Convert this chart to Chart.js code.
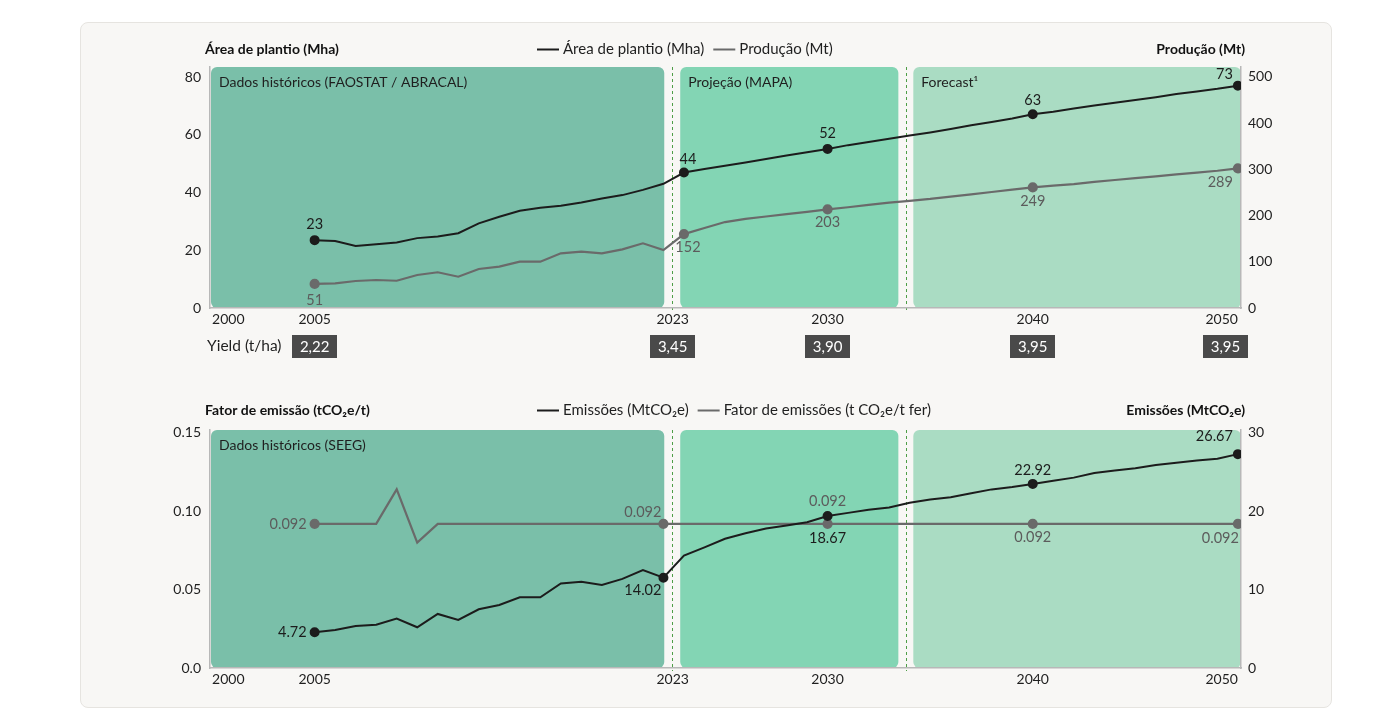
<!DOCTYPE html>
<html lang="pt-BR">
<head>
<meta charset="utf-8">
<title>Área de plantio, produção e emissões</title>
<script src="https://cdn.jsdelivr.net/npm/chart.js@4.4.1/dist/chart.umd.min.js"></script>
<style>
  html, body { margin: 0; padding: 0; background: #fff; }
  body { width: 1394px; height: 709px; overflow: hidden; position: relative; }
  .card { position: absolute; left: 80px; top: 22px; width: 1250px; height: 684px;
          background: #f8f7f5; border: 1px solid #e6e4e0; border-radius: 8px; }
  #cTopo { position: absolute; left: 0; top: 40px; }
  #cBaixo { position: absolute; left: 0; top: 395px; }
</style>
</head>
<body>
<div class="card"></div>
<canvas id="cTopo" width="1394" height="330"></canvas>
<canvas id="cBaixo" width="1394" height="314"></canvas>
<script>
// anos da série (histórico + projeção)
const anos = [2005, 2006, 2007, 2008, 2009, 2010, 2011, 2012, 2013, 2014, 2015, 2016, 2017, 2018, 2019, 2020,
  2021, 2022, 2023, 2024, 2025, 2026, 2027, 2028, 2029, 2030, 2031, 2032, 2033, 2034, 2035, 2036, 2037,
  2038, 2039, 2040, 2041, 2042, 2043, 2044, 2045, 2046, 2047, 2048, 2049, 2050];

// Mha
const areaPlantio = [23.5, 23.2, 21.5, 22.1, 22.7, 24.2, 24.8, 25.9, 29.3, 31.6, 33.7, 34.7, 35.4, 36.5, 37.9, 39.1,
  40.9, 43.0, 46.9, 48.1, 49.3, 50.4, 51.6, 52.8, 53.9, 55.1, 56.4, 57.5, 58.6, 59.7, 60.8, 62.0, 63.3,
  64.4, 65.6, 67.1, 68.0, 69.1, 70.1, 71.1, 72.0, 73.0, 74.1, 75.0, 75.9, 77.0];
// Mt
const producao = [52, 53.5, 58.4, 60.6, 59, 71.4, 77.3, 67.7, 84.4, 89.4, 100.2, 100.2, 118.4, 121.9, 118.4, 127,
  140, 125.5, 160, 173, 186, 193, 198, 203, 208, 213.6, 218, 223, 228, 232, 236, 241, 246,
  251, 256, 261, 265, 268, 273, 277, 281, 285, 289, 293, 297, 302];
// MtCO2e
const emissoes = [4.56, 4.85, 5.36, 5.53, 6.3, 5.2, 6.9, 6.13, 7.5, 8.05, 9.03, 9.03, 10.8, 11.0, 10.6, 11.37,
  12.5, 11.53, 14.34, 15.4, 16.5, 17.2, 17.8, 18.2, 18.6, 19.4, 19.8, 20.2, 20.5, 21.1, 21.5, 21.8, 22.3,
  22.8, 23.1, 23.5, 23.9, 24.3, 24.9, 25.2, 25.5, 25.9, 26.2, 26.5, 26.7, 27.3];
// tCO2e/t
const fatorEmissao = [0.092, 0.092, 0.092, 0.092, 0.114, 0.080, 0.092, 0.092, 0.092, 0.092, 0.092, 0.092, 0.092,
  0.092, 0.092, 0.092, 0.092, 0.092, 0.092, 0.092, 0.092, 0.092, 0.092, 0.092, 0.092, 0.092, 0.092, 0.092,
  0.092, 0.092, 0.092, 0.092, 0.092, 0.092, 0.092, 0.092, 0.092, 0.092, 0.092, 0.092, 0.092, 0.092, 0.092,
  0.092, 0.092, 0.092];

// eixo x
const ticksX = [2000, 2005, 2022.45, 2030, 2040, 2050];
const rotulosX = ["2000", "2005", "2023", "2030", "2040", "2050"];
const xMin = 1999.9, xMax = 2050.15;

// eixos y
const ticksArea = [0, 20, 40, 60, 80];
const ticksProducao = [0, 100, 200, 300, 400, 500];
const ticksFator = [0, 0.05, 0.10, 0.15];
const rotulosFator = ["0.0", "0.05", "0.10", "0.15"];
const ticksEmissoes = [0, 10, 20, 30];

// faixas (histórico / projeção / forecast)
const faixasInicio = [1999.9, 2022.77, 2034.13];
const faixasFim = [2022.04, 2033.45, 2050.15];
const divisores = [2022.43, 2033.8];
const nomesFaixasTopo = ["Dados históricos (FAOSTAT / ABRACAL)", "Projeção (MAPA)", "Forecast¹"];
const nomesFaixasBaixo = ["Dados históricos (SEEG)", "", ""];

// rendimento
const yieldPos = [2005, 2022.45, 2030, 2040, 2050];
const yieldValores = ["2,22", "3,45", "3,90", "3,95", "3,95"];

// marcadores e rótulos
const marcasTopo = [2005, 2023, 2030, 2040, 2050];
const rotulosArea = ["23", "44", "52", "63", "73"];
const rotulosProducao = ["51", "152", "203", "249", "289"];
const marcasBaixo = [2005, 2022, 2030, 2040, 2050];
const rotulosEmissoes = ["4.72", "14.02", "18.67", "22.92", "26.67"];
const rotulosFatorPts = ["0.092", "0.092", "0.092", "0.092", "0.092"];

const FONTE = "Lato, 'Noto Sans', sans-serif";
const COR = {
  preto: "#1c1c1c", cinza: "#6a6a6a", txtCinza: "#5c5c5c", eixo: "#b8b8b8",
  divisor: "#4e9e46", caixa: "#4a4a4a", texto: "#1f1f1f"
};
const coresFaixas = ["#7abfa9", "#83d5b4", "#aadcc3"];

Chart.defaults.font.family = FONTE;
Chart.defaults.font.size = 14;
Chart.defaults.color = COR.texto;

function serie(valores) {
  return anos.map((a, i) => ({ x: a, y: valores[i] }));
}
function raio(marcas) {
  return ctx => marcas.includes(anos[ctx.dataIndex]) ? 4 : 0;
}

function eixoX() {
  return {
    type: "linear", min: xMin, max: xMax,
    grid: { display: false, drawTicks: false },
    border: { display: true, color: COR.eixo, width: 1.5 },
    afterBuildTicks: s => { s.ticks = ticksX.map(v => ({ value: v })); },
    afterFit: s => { s.height = 30; },
    ticks: { align: "inner", maxRotation: 0, autoSkip: false, padding: 3,
      callback: (v, i) => rotulosX[i], color: COR.texto }
  };
}
function eixoY(pos, max, ticks, rotulos) {
  return {
    type: "linear", position: pos, min: 0, max: max,
    grid: { display: false, drawTicks: false },
    border: { display: true, color: COR.eixo, width: 1.5 },
    afterBuildTicks: s => { s.ticks = ticks.map(v => ({ value: v })); },
    afterFit: s => { s.width = 40; },
    ticks: { padding: pos === "left" ? 9 : 7, color: COR.texto,
      callback: (v, i) => rotulos ? rotulos[i] : String(v) }
  };
}

const decor = {
  id: "decor",
  beforeDraw(chart, args, o) {
    const { ctx, chartArea: ca } = chart;
    const x = chart.scales.x;
    ctx.save();
    faixasInicio.forEach((ini, i) => {
      const x0 = x.getPixelForValue(ini) + 1;
      const x1 = x.getPixelForValue(faixasFim[i]);
      ctx.fillStyle = coresFaixas[i];
      ctx.beginPath();
      ctx.roundRect(x0, ca.top, x1 - x0, ca.bottom - ca.top, 6);
      ctx.fill();
      if (o.faixas[i]) {
        ctx.fillStyle = COR.texto;
        ctx.font = "14px " + FONTE;
        ctx.textAlign = "left";
        ctx.textBaseline = "middle";
        ctx.fillText(o.faixas[i], x0 + 8, ca.top + 15);
      }
    });
    ctx.strokeStyle = COR.divisor;
    ctx.lineWidth = 1;
    ctx.setLineDash([3, 3]);
    divisores.forEach(d => {
      const px = Math.round(x.getPixelForValue(d)) + 0.5;
      ctx.beginPath();
      ctx.moveTo(px, ca.top);
      ctx.lineTo(px, ca.bottom + 3);
      ctx.stroke();
    });
    ctx.setLineDash([]);

    // títulos dos eixos
    ctx.fillStyle = "#111";
    ctx.font = "bold 14px " + FONTE;
    ctx.textBaseline = "middle";
    ctx.textAlign = "left";
    ctx.fillText(o.tituloEsq, ca.left - 5, o.yTitulo);
    ctx.textAlign = "right";
    ctx.fillText(o.tituloDir, ca.right + 4, o.yTitulo);

    // legenda
    let lx = 537;
    ctx.font = "15px " + FONTE;
    ctx.textAlign = "left";
    o.legenda.forEach(it => {
      ctx.strokeStyle = it.cor;
      ctx.lineWidth = 2;
      ctx.beginPath();
      ctx.moveTo(lx, o.yTitulo + 0.5);
      ctx.lineTo(lx + 22, o.yTitulo + 0.5);
      ctx.stroke();
      ctx.fillStyle = COR.texto;
      ctx.fillText(it.texto, lx + 26, o.yTitulo);
      lx += 26 + ctx.measureText(it.texto).width + 9;
    });
    ctx.restore();
  },
  afterDatasetsDraw(chart, args, o) {
    const { ctx, chartArea: ca } = chart;
    const x = chart.scales.x;
    ctx.save();
    ctx.font = "14.5px " + FONTE;
    ctx.textBaseline = "middle";
    o.rotulos.forEach(r => {
      const ds = chart.data.datasets[r.ds];
      const idx = anos.indexOf(r.ano);
      const px = x.getPixelForValue(r.ano);
      const py = chart.scales[ds.yAxisID].getPixelForValue(ds.data[idx].y);
      ctx.fillStyle = r.cor;
      ctx.textAlign = r.al || "center";
      ctx.fillText(r.txt, px + (r.dx || 0), py + r.dy);
    });

    if (o.rendimento) {
      const yc = ca.bottom + 38;
      ctx.font = "15.5px " + FONTE;
      ctx.fillStyle = COR.texto;
      ctx.textAlign = "left";
      ctx.fillText("Yield (t/ha)", ca.left - 3, yc);
      ctx.font = "15px " + FONTE;
      yieldPos.forEach((p, i) => {
        let cx = x.getPixelForValue(p);
        const w = 45;
        if (cx + w / 2 > ca.right + 7) cx = ca.right + 7 - w / 2;
        ctx.fillStyle = COR.caixa;
        ctx.fillRect(Math.round(cx - w / 2), yc - 11, w, 23);
        ctx.fillStyle = "#fff";
        ctx.textAlign = "center";
        ctx.fillText(yieldValores[i], cx, yc + 1);
      });
    }
    ctx.restore();
  }
};

// posições dos rótulos (topo)
const posAreaTopo = [{ dy: -16 }, { dx: 4, dy: -13 }, { dy: -16 }, { dy: -14 }, { dx: -5, dy: -11, al: "right" }];
const posProdTopo = [{ dy: 16 }, { dx: 4, dy: 13 }, { dy: 13 }, { dy: 14 }, { dx: -5, dy: 14, al: "right" }];
const rotTopo = [
  ...marcasTopo.map((a, i) => Object.assign({ ds: 0, ano: a, txt: rotulosArea[i], cor: COR.preto }, posAreaTopo[i])),
  ...marcasTopo.map((a, i) => Object.assign({ ds: 1, ano: a, txt: rotulosProducao[i], cor: COR.txtCinza }, posProdTopo[i]))
];

new Chart(document.getElementById("cTopo"), {
  type: "line",
  data: {
    datasets: [
      { label: "Área de plantio (Mha)", data: serie(areaPlantio), yAxisID: "y",
        borderColor: COR.preto, backgroundColor: COR.preto, borderWidth: 2,
        pointRadius: raio(marcasTopo), pointHoverRadius: 0, tension: 0 },
      { label: "Produção (Mt)", data: serie(producao), yAxisID: "y2",
        borderColor: COR.cinza, backgroundColor: COR.cinza, borderWidth: 2.2,
        pointRadius: raio(marcasTopo), pointHoverRadius: 0, tension: 0 }
    ]
  },
  options: {
    responsive: false, animation: false,
    layout: { padding: { left: 170, right: 113, top: 27, bottom: 32 } },
    plugins: {
      legend: { display: false }, tooltip: { enabled: false },
      decor: {
        tituloEsq: "Área de plantio (Mha)", tituloDir: "Produção (Mt)", yTitulo: 9,
        legenda: [{ texto: "Área de plantio (Mha)", cor: COR.preto }, { texto: "Produção (Mt)", cor: COR.cinza }],
        faixas: nomesFaixasTopo, rotulos: rotTopo, rendimento: true
      }
    },
    scales: {
      x: eixoX(),
      y: eixoY("left", 83.46, ticksArea),
      y2: eixoY("right", 521.6, ticksProducao)
    }
  },
  plugins: [decor]
});

// posições dos rótulos (baixo)
const posEmisBaixo = [{ dx: -8, dy: 0, al: "right" }, { dx: -2, dy: 13, al: "right" }, { dy: 22 }, { dy: -14 }, { dx: -5, dy: -18, al: "right" }];
const posFatorBaixo = [{ dx: -8, dy: 0, al: "right" }, { dx: -2, dy: -12, al: "right" }, { dy: -23 }, { dy: 13 }, { dx: 1, dy: 14, al: "right" }];
const rotBaixo = [
  ...marcasBaixo.map((a, i) => Object.assign({ ds: 1, ano: a, txt: rotulosFatorPts[i], cor: COR.txtCinza }, posFatorBaixo[i])),
  ...marcasBaixo.map((a, i) => Object.assign({ ds: 0, ano: a, txt: rotulosEmissoes[i], cor: COR.preto }, posEmisBaixo[i]))
];

new Chart(document.getElementById("cBaixo"), {
  type: "line",
  data: {
    datasets: [
      { label: "Emissões (MtCO₂e)", data: serie(emissoes), yAxisID: "y2",
        borderColor: COR.preto, backgroundColor: COR.preto, borderWidth: 2, order: 0,
        pointRadius: raio(marcasBaixo), pointHoverRadius: 0, tension: 0 },
      { label: "Fator de emissões (t CO₂e/t fer)", data: serie(fatorEmissao), yAxisID: "y",
        borderColor: COR.cinza, backgroundColor: COR.cinza, borderWidth: 2.2, order: 1,
        pointRadius: raio(marcasBaixo), pointHoverRadius: 0, tension: 0 }
    ]
  },
  options: {
    responsive: false, animation: false,
    layout: { padding: { left: 170, right: 113, top: 35, bottom: 11 } },
    plugins: {
      legend: { display: false }, tooltip: { enabled: false },
      decor: {
        tituloEsq: "Fator de emissão (tCO₂e/t)", tituloDir: "Emissões (MtCO₂e)", yTitulo: 15,
        legenda: [{ texto: "Emissões (MtCO₂e)", cor: COR.preto }, { texto: "Fator de emissões (t CO₂e/t fer)", cor: COR.cinza }],
        faixas: nomesFaixasBaixo, rotulos: rotBaixo, rendimento: false
      }
    },
    scales: {
      x: eixoX(),
      y: eixoY("left", 0.1519, ticksFator, rotulosFator),
      y2: eixoY("right", 30.38, ticksEmissoes)
    }
  },
  plugins: [decor]
});
</script>
</body>
</html>
